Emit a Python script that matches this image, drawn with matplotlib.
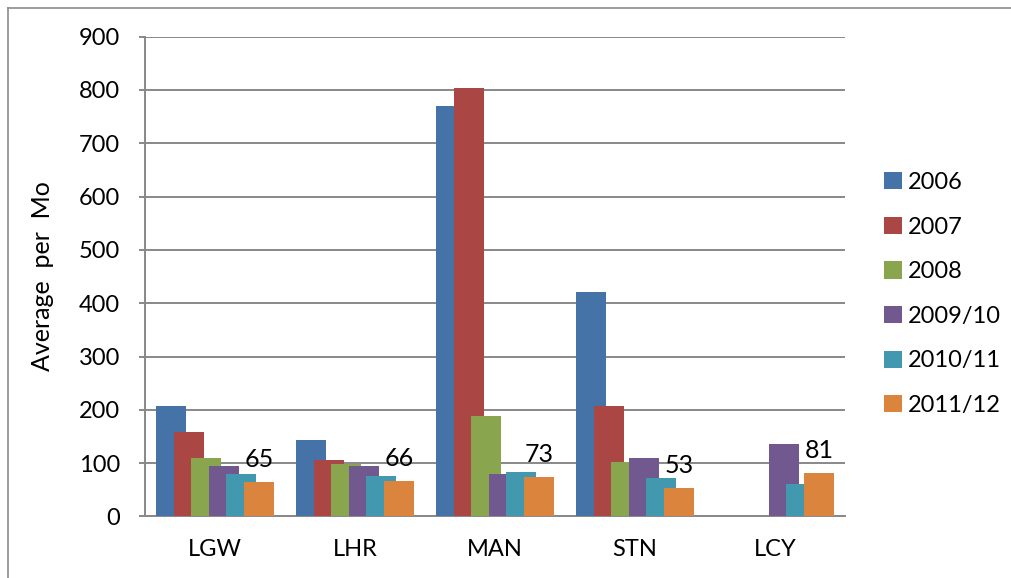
import matplotlib
matplotlib.use("Agg")
import matplotlib.pyplot as plt
import numpy as np
from matplotlib.lines import Line2D

plt.rcParams['font.family'] = ['Lato', 'DejaVu Sans']

# データ
airports = ["LGW", "LHR", "MAN", "STN", "LCY"]
periods = ["2006", "2007", "2008", "2009/10", "2010/11", "2011/12"]
v2006 = [207, 143, 770, 421, 0]
v2007 = [158, 106, 803, 207, 0]
v2008 = [109, 98, 189, 102, 0]
v2009 = [94, 94, 80, 110, 136]
v2010 = [79, 75, 83, 72, 61]
v2011 = [65, 66, 73, 53, 81]
series = [v2006, v2007, v2008, v2009, v2010, v2011]
colors = ["#4572A7", "#AA4643", "#89A54E", "#71588F", "#4198AF", "#DB843D"]

fig = plt.figure(figsize=(10.12, 5.78), dpi=100)
ax = fig.add_axes([145 / 1012, 1 - 516.4 / 578, 700 / 1012, (516.4 - 36.7) / 578])

# 外枠
fig.add_artist(Line2D([8 / 1012, 8 / 1012], [0, 1 - 8 / 578], transform=fig.transFigure, color="#8c8c8c", lw=1.2))
fig.add_artist(Line2D([8 / 1012, 1], [1 - 8 / 578, 1 - 8 / 578], transform=fig.transFigure, color="#8c8c8c", lw=1.2))

x = np.arange(len(airports))
step = 0.126
width = 0.214
for i, (vals, c, lab) in enumerate(zip(series, colors, periods)):
    ax.bar(x + (i - 2.5) * step, vals, width, color=c, label=lab, zorder=3)

# データラベル (2011/12)
for xi, v in zip(x, v2011):
    ax.annotate(str(v), (xi + 2.5 * step, v), xytext=(0, 8), textcoords="offset points",
                ha="center", va="bottom", fontsize=18)

# 軸設定
ax.set_xlim(-0.5, len(airports) - 0.5)
ax.set_ylim(0, 900)
ax.set_yticks(np.arange(0, 901, 100))
ax.set_xticks(x)
ax.set_xticklabels(airports)
ax.tick_params(axis="y", length=4, width=1.4, color="#888888", pad=14, labelsize=17)
ax.tick_params(axis="x", length=0, pad=16, labelsize=17)
ax.grid(axis="y", color="#888888", linewidth=1.4, zorder=1)
for s in ["top", "right"]:
    ax.spines[s].set_visible(False)
for s in ["left", "bottom"]:
    ax.spines[s].set_color("#888888")
    ax.spines[s].set_linewidth(1.4)
ax.set_ylabel("Average  per  Mo", fontsize=18, labelpad=18)

fig.legend(loc="center left", bbox_to_anchor=(884 / 1012, 1 - 294 / 578), frameon=False,
           fontsize=17, handlelength=0.75, handleheight=0.75, handletextpad=0.25,
           labelspacing=1.0, borderpad=0, borderaxespad=0)

fig.savefig("out.png", dpi=100)
